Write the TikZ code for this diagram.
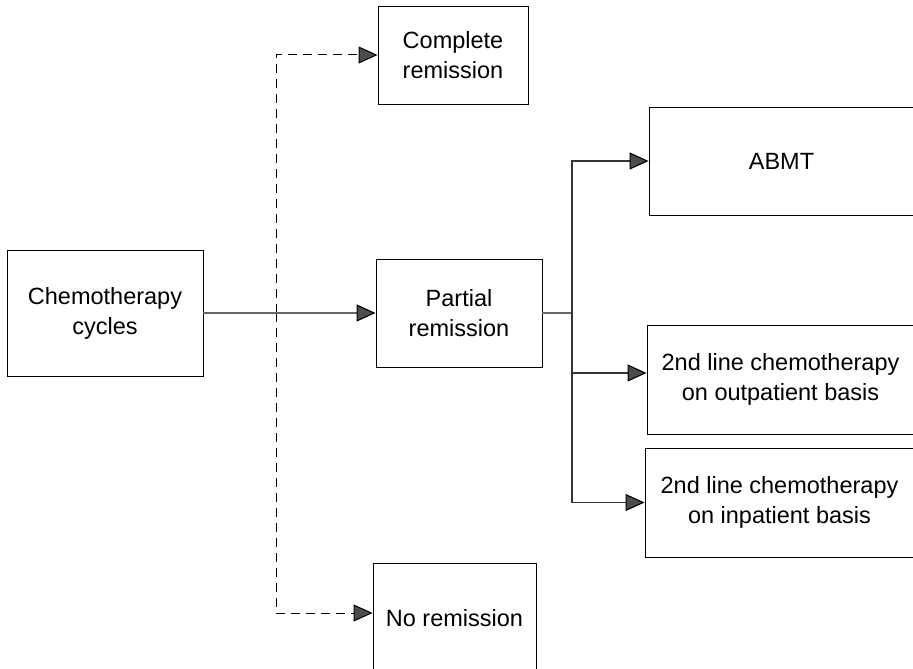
\documentclass[tikz,border=0pt]{standalone}
\usepackage{fontspec}
\setmainfont{Liberation Sans}
\usetikzlibrary{arrows.meta}
\tikzset{
  box/.style={draw=black, line width=0.9pt, rectangle, align=center, inner sep=0pt,
              font=\fontsize{23.5}{30}\selectfont},
  tip/.style={-{Triangle[length=19pt,width=17pt,fill=black!70,color=black]}},
  conn/.style={draw=black!60, line width=1.1pt},
  dashline/.style={draw=black, line width=1pt, dash pattern=on 9pt off 6pt},
}
\begin{document}
\begin{tikzpicture}[x=1pt, y=-1pt]
  \useasboundingbox (0,0) rectangle (913,669);
  \clip (0,0) rectangle (913,669);
  \fill[white] (0,0) rectangle (913,669);

  % boxes
  \node[box, minimum width=196pt, minimum height=126pt] (chemo) at (105,313) {Chemotherapy\\cycles};
  \node[box, minimum width=150pt, minimum height=98pt]  (complete) at (453,55) {Complete\\remission};
  \node[box, minimum width=166pt, minimum height=108pt] (partial) at (459,313) {Partial\\remission};
  \node[box, minimum width=163pt, minimum height=120pt] (noremission) at (454.5,623) {\raisebox{10pt}{No remission}};
  \node[box, minimum width=265pt, minimum height=108pt] (abmt) at (781.5,161) {ABMT};
  \node[box, minimum width=267pt, minimum height=109pt] (outpatient) at (780.5,379.5) {2nd line chemotherapy\\on outpatient basis};
  \node[box, minimum width=269pt, minimum height=109pt] (inpatient) at (779.5,502.5) {2nd line chemotherapy\\on inpatient basis};

  % junction points
  \coordinate (jd) at (276,313);
  \coordinate (jb) at (572,313);

  % dashed branches to complete / no remission
  \draw[dashline, tip] (jd) |- (complete.west);
  \draw[dashline, tip] (jd) |- ([yshift=10pt]noremission.west);

  % main flow
  \draw[conn, tip] (chemo) -- (partial);
  \draw[conn] (partial) -- (jb);
  \draw[conn, draw=black!80, tip] (jb) |- (abmt.west);
  \draw[conn, draw=black!80, tip] (jb) |- ([yshift=6.5pt]outpatient.west);
  \draw[conn, draw=black!80, tip] (jb) |- (inpatient.west);
\end{tikzpicture}
\end{document}
